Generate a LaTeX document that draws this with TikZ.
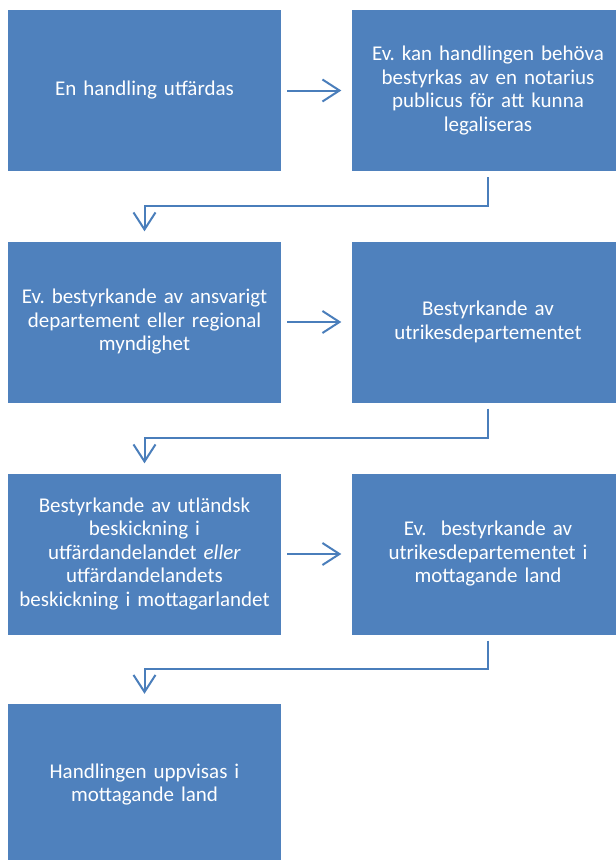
\documentclass[tikz,border=0pt]{standalone}
\usepackage{fontspec}
\setmainfont{Carlito}
\frenchspacing
\usetikzlibrary{arrows.meta}
\definecolor{boxblue}{HTML}{4F81BD}
\definecolor{lineblue}{HTML}{4A7EBB}
\tikzset{
    BoxStyle/.style = {rectangle, fill = boxblue, text = white, minimum width = 273pt,
        minimum height = 161pt, text width = 262pt, align = center, inner sep = 0pt,
        font = \fontsize{21}{23.5}\selectfont},
    ArrowStyle/.style = {draw = lineblue, line width = 2pt,
        -{Straight Barb[length = 17pt, width = 22pt]}, shorten < = 6pt, shorten > = 10pt}
}

\begin{document}
\begin{tikzpicture}[x = 1pt, y = -1pt]
                %\draw[help lines] (0, 0) grid (616, 860);
                \clip (0, 0) rectangle (616, 860);
                \node[BoxStyle] (b1) at (144.5, 90.5) {En handling utfärdas};
                \node[BoxStyle] (b2) at (488, 90.5) {Ev. kan handlingen behöva\\ bestyrkas av en notarius\\ publicus för att kunna\\ legaliseras};
                \node[BoxStyle] (b3) at (144.5, 322) {Ev. bestyrkande av ansvarigt\\ departement eller regional\\ myndighet};
                \node[BoxStyle] (b4) at (488, 322) {Bestyrkande av\\ utrikesdepartementet};
                \node[BoxStyle] (b5) at (144.5, 554) {Bestyrkande av utländsk\\ beskickning i\\ utfärdandelandet \emph{eller}\\ utfärdandelandets\\ beskickning i mottagarlandet};
                \node[BoxStyle] (b6) at (488, 554) {Ev.\ \ bestyrkande av\\ utrikesdepartementet i\\ mottagande land};
                \node[BoxStyle] (b7) at (144.5, 784.5) {Handlingen uppvisas i\\ mottagande land};

                \draw[ArrowStyle] (b1) -- (b2);
                \draw[ArrowStyle] (b3) -- (b4);
                \draw[ArrowStyle] (b5) -- (b6);

                \draw[ArrowStyle] (b2.south) -- ++(0, 35) -| (b3.north);
                \draw[ArrowStyle] (b4.south) -- ++(0, 35) -| (b5.north);
                \draw[ArrowStyle] (b6.south) -- ++(0, 34) -| (b7.north);
        \end{tikzpicture}
\end{document}
